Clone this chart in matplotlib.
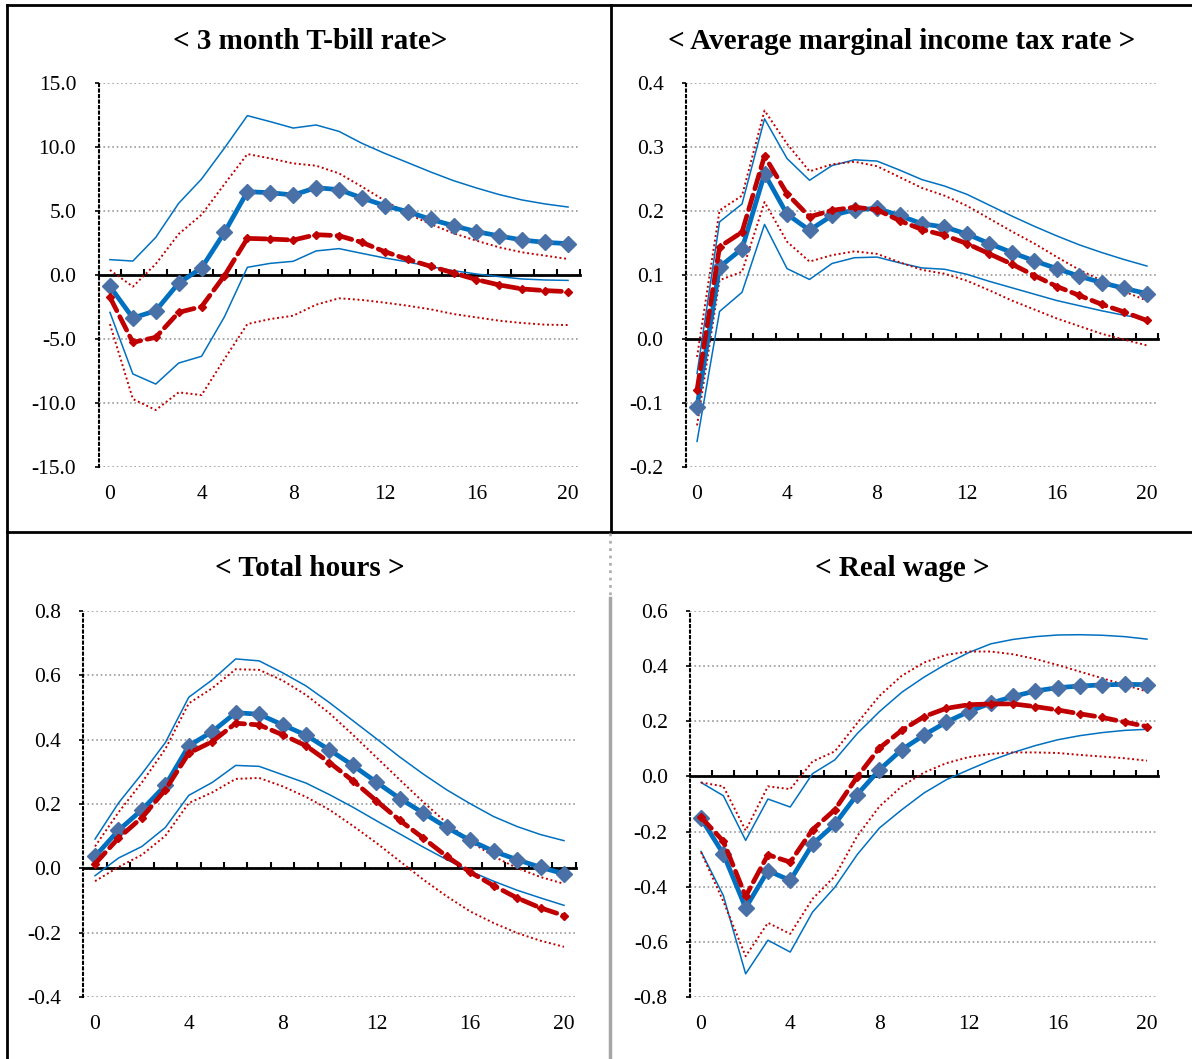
import numpy as np
import matplotlib
matplotlib.use("Agg")
import matplotlib.pyplot as plt
from matplotlib.lines import Line2D
from matplotlib.ticker import FuncFormatter

plt.rcParams['font.family'] = ['Liberation Serif', 'DejaVu Serif']
plt.rcParams['axes.unicode_minus'] = False

W, H = 1192, 1059

periods = np.arange(21)
period_labels = [0, 4, 8, 12, 16, 20]

# < 3 month T-bill rate >
tbill_mean = [-0.89, -3.36, -2.79, -0.63, 0.55, 3.33, 6.51, 6.43, 6.25, 6.82, 6.67,
              6.02, 5.42, 4.95, 4.35, 3.85, 3.39, 3.05, 2.73, 2.55, 2.45]
tbill_hi = [1.20, 1.09, 2.94, 5.60, 7.50, 9.92, 12.45, 11.98, 11.48, 11.72, 11.22,
            10.29, 9.50, 8.78, 8.05, 7.37, 6.80, 6.28, 5.86, 5.55, 5.31]
tbill_lo = [-2.92, -7.73, -8.52, -6.88, -6.35, -3.26, 0.60, 0.91, 1.07, 1.88, 2.06,
            1.69, 1.33, 1.02, 0.65, 0.34, 0.08, -0.13, -0.31, -0.39, -0.42]
tbill_alt = [-1.74, -5.26, -4.87, -2.92, -2.47, -0.05, 2.86, 2.81, 2.73, 3.15, 3.07,
             2.55, 1.82, 1.22, 0.68, 0.16, -0.36, -0.78, -1.09, -1.22, -1.30]
tbill_alt_hi = [0.39, -0.91, 0.86, 3.20, 4.71, 7.10, 9.45, 9.11, 8.72, 8.54, 7.94,
                6.90, 5.81, 4.77, 3.98, 3.26, 2.68, 2.16, 1.77, 1.51, 1.25]
tbill_alt_lo = [-3.83, -9.69, -10.55, -9.17, -9.38, -6.56, -3.83, -3.44, -3.18, -2.32, -1.82,
                -1.95, -2.16, -2.40, -2.68, -3.05, -3.31, -3.57, -3.75, -3.88, -3.91]

# < Average marginal income tax rate >
tax_mean = [-0.106, 0.1125, 0.141, 0.258, 0.195, 0.170, 0.193, 0.202, 0.204, 0.193, 0.180,
            0.175, 0.164, 0.149, 0.135, 0.122, 0.110, 0.098, 0.088, 0.079, 0.071]
tax_hi = [-0.054, 0.183, 0.211, 0.344, 0.282, 0.248, 0.271, 0.280, 0.278, 0.264, 0.249,
          0.239, 0.226, 0.209, 0.192, 0.176, 0.161, 0.147, 0.135, 0.124, 0.114]
tax_lo = [-0.160, 0.043, 0.073, 0.179, 0.110, 0.093, 0.118, 0.127, 0.128, 0.119, 0.111,
          0.109, 0.101, 0.090, 0.080, 0.070, 0.060, 0.052, 0.044, 0.037, 0.031]
tax_alt = [-0.080, 0.144, 0.167, 0.286, 0.227, 0.191, 0.201, 0.206, 0.202, 0.185, 0.171,
           0.162, 0.149, 0.133, 0.117, 0.099, 0.082, 0.068, 0.054, 0.042, 0.029]
tax_alt_hi = [-0.028, 0.201, 0.224, 0.357, 0.305, 0.262, 0.273, 0.277, 0.270, 0.253, 0.236,
              0.224, 0.208, 0.188, 0.168, 0.149, 0.128, 0.108, 0.091, 0.074, 0.060]
tax_alt_lo = [-0.135, 0.092, 0.105, 0.214, 0.152, 0.121, 0.131, 0.137, 0.133, 0.120, 0.108,
              0.102, 0.091, 0.076, 0.060, 0.046, 0.032, 0.020, 0.008, -0.001, -0.010]

# < Total hours >
hours_mean = [0.037, 0.118, 0.182, 0.258, 0.381, 0.425, 0.484, 0.479, 0.446, 0.414, 0.368,
              0.320, 0.268, 0.217, 0.172, 0.127, 0.087, 0.053, 0.027, 0.003, -0.017]
hours_hi = [0.091, 0.203, 0.294, 0.391, 0.532, 0.586, 0.651, 0.645, 0.608, 0.567, 0.515,
            0.459, 0.403, 0.346, 0.293, 0.244, 0.201, 0.161, 0.130, 0.105, 0.086]
hours_lo = [-0.023, 0.032, 0.068, 0.127, 0.227, 0.267, 0.320, 0.317, 0.291, 0.265, 0.229,
            0.190, 0.148, 0.107, 0.066, 0.027, -0.009, -0.040, -0.068, -0.092, -0.115]
hours_alt = [0.014, 0.094, 0.158, 0.244, 0.358, 0.394, 0.451, 0.446, 0.415, 0.381, 0.329,
             0.272, 0.210, 0.149, 0.094, 0.037, -0.012, -0.054, -0.092, -0.123, -0.147]
hours_alt_hi = [0.068, 0.174, 0.267, 0.371, 0.513, 0.560, 0.619, 0.617, 0.584, 0.539, 0.482,
                0.415, 0.345, 0.275, 0.206, 0.141, 0.084, 0.037, 0.001, -0.027, -0.048]
hours_alt_lo = [-0.040, 0.004, 0.042, 0.101, 0.203, 0.236, 0.278, 0.281, 0.255, 0.222, 0.182,
                0.132, 0.079, 0.022, -0.035, -0.087, -0.134, -0.170, -0.201, -0.225, -0.244]

# < Real wage >
wage_mean = [-0.152, -0.281, -0.477, -0.342, -0.377, -0.246, -0.173, -0.066, 0.024, 0.097, 0.150,
             0.197, 0.235, 0.266, 0.290, 0.310, 0.322, 0.328, 0.332, 0.334, 0.333]
wage_hi = [-0.022, -0.070, -0.232, -0.082, -0.111, 0.010, 0.060, 0.155, 0.235, 0.305, 0.360,
           0.408, 0.449, 0.481, 0.497, 0.507, 0.513, 0.514, 0.512, 0.507, 0.498]
wage_lo = [-0.272, -0.432, -0.716, -0.594, -0.637, -0.492, -0.402, -0.284, -0.187, -0.121, -0.060,
           -0.012, 0.024, 0.058, 0.087, 0.112, 0.133, 0.148, 0.159, 0.167, 0.171]
wage_alt = [-0.148, -0.235, -0.435, -0.284, -0.311, -0.193, -0.121, -0.002, 0.103, 0.167, 0.217,
            0.247, 0.260, 0.263, 0.263, 0.253, 0.241, 0.227, 0.214, 0.197, 0.181]
wage_alt_hi = [-0.022, -0.036, -0.196, -0.036, -0.046, 0.054, 0.091, 0.193, 0.292, 0.365, 0.413,
               0.441, 0.453, 0.453, 0.443, 0.426, 0.404, 0.380, 0.356, 0.332, 0.308]
wage_alt_lo = [-0.275, -0.453, -0.652, -0.531, -0.571, -0.444, -0.362, -0.217, -0.109, -0.036, 0.014,
               0.048, 0.070, 0.082, 0.087, 0.087, 0.085, 0.078, 0.072, 0.066, 0.057]

BLUE = '#0070C0'
MARKER = '#4A70A8'
RED = '#C00000'

fig = plt.figure(figsize=(W / 100, H / 100), dpi=100)


def fmt_tick(v, pos):
    v = round(v, 6)
    if v == 0:
        v = 0.0
    return '%.1f' % v


def add_panel(x0, x1, y0, y1, title, tx, ty, ylim, ystep, series):
    ax = fig.add_axes([x0 / W, 1 - y1 / H, (x1 - x0) / W, (y1 - y0) / H])
    mean, hi, lo, alt, alt_hi, alt_lo = series
    ax.plot(periods, hi, color=BLUE, lw=1.1, zorder=3)
    ax.plot(periods, lo, color=BLUE, lw=1.1, zorder=3)
    ax.plot(periods, alt_hi, color=RED, lw=1.4, dashes=(1, 1.4), zorder=3)
    ax.plot(periods, alt_lo, color=RED, lw=1.4, dashes=(1, 1.4), zorder=3)
    ax.plot(periods, mean, color=BLUE, lw=3.4, marker='D', ms=8,
            mfc=MARKER, mec=MARKER, zorder=4)
    ax.plot(periods, alt, color=RED, lw=3.4, dashes=(3.2, 1.4), dash_capstyle='round',
            marker='D', ms=4, mfc=RED, mec=RED, zorder=5)

    ax.set_xlim(-0.5, 20.5)
    ax.set_ylim(*ylim)
    ax.set_yticks(np.round(np.arange(ylim[0], ylim[1] + ystep / 2, ystep), 6))
    ax.yaxis.set_major_formatter(FuncFormatter(fmt_tick))
    ax.set_axisbelow(True)
    ax.grid(axis='y', color='#9a9a9a', linestyle=':', linewidth=1.2)

    for s in ['top', 'right']:
        ax.spines[s].set_visible(False)
    ax.spines['left'].set_linestyle(':')
    ax.spines['left'].set_linewidth(1.5)
    ax.spines['bottom'].set_position(('data', 0))
    ax.spines['bottom'].set_linewidth(2)
    ax.spines['bottom'].set_zorder(2)
    ax.set_xticks(np.arange(0.5, 21, 1))
    ax.tick_params(axis='x', direction='in', length=4.5, width=1.5, labelbottom=False)
    ax.tick_params(axis='y', direction='out', length=3, width=1.2, pad=13, labelsize=15.5)

    sec = ax.secondary_xaxis('bottom')
    sec.set_xticks(period_labels)
    sec.tick_params(length=0, pad=13, labelsize=15.5)
    sec.spines['bottom'].set_visible(False)

    fig.text(tx / W, 1 - ty / H, title, ha='center', va='center',
             fontsize=21, fontweight='bold')
    return ax


add_panel(98.5, 579.5, 83, 467, '< 3 month T-bill rate>', 310, 41, (-15, 15), 5,
          (tbill_mean, tbill_hi, tbill_lo, tbill_alt, tbill_alt_hi, tbill_alt_lo))
add_panel(685.8, 1158.2, 83, 467, '< Average marginal income tax rate >', 902, 41, (-0.2, 0.4), 0.1,
          (tax_mean, tax_hi, tax_lo, tax_alt, tax_alt_hi, tax_alt_lo))
add_panel(83.3, 575.7, 611, 997, '< Total hours >', 310, 568, (-0.4, 0.8), 0.2,
          (hours_mean, hours_hi, hours_lo, hours_alt, hours_alt_hi, hours_alt_lo))
add_panel(689.9, 1158.1, 611, 997, '< Real wage >', 902, 568, (-0.8, 0.6), 0.2,
          (wage_mean, wage_hi, wage_lo, wage_alt, wage_alt_hi, wage_alt_lo))


def frame_line(x0, y0, x1, y1, **kw):
    fig.add_artist(Line2D([x0 / W, x1 / W], [1 - y0 / H, 1 - y1 / H],
                          transform=fig.transFigure, **kw))


# panel frames
frame_line(7, 5, W, 5, color='k', lw=2)
frame_line(7, 5, 7, H, color='k', lw=2)
frame_line(611, 5, 611, 532, color='k', lw=2)
frame_line(7, 532, W, 532, color='k', lw=2)
frame_line(610, 533, 610, 598, color='#b0b0b0', lw=2, ls=':')
frame_line(610, 598, 610, H, color='#a6a6a6', lw=2.5)

fig.savefig('out.png', dpi=100)
